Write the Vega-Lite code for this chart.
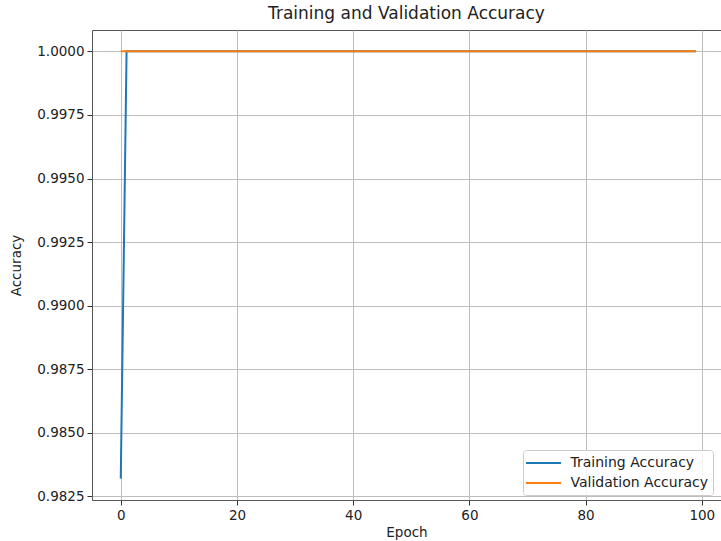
{
  "$schema": "https://vega.github.io/schema/vega-lite/v6.json",
  "width": 629,
  "height": 470,
  "autosize": {"type": "none"},
  "padding": {"left": 92, "top": 30, "right": 0, "bottom": 41},
  "background": "white",
  "config": {
    "font": "DejaVu Sans",
    "view": {"stroke": "#555555", "strokeWidth": 1},
    "axis": {
      "domain": false,
      "grid": true,
      "gridColor": "#bdbdbd",
      "gridWidth": 1,
      "tickColor": "#333333",
      "tickSize": 5,
      "tickWidth": 1,
      "labelFont": "DejaVu Sans",
      "labelFontSize": 13.5,
      "labelColor": "#222222",
      "titleFont": "DejaVu Sans",
      "titleFontSize": 13.5,
      "titleFontWeight": "normal",
      "titleColor": "#222222"
    }
  },
  "title": {
    "text": "Training and Validation Accuracy",
    "font": "DejaVu Sans",
    "fontSize": 17,
    "fontWeight": "normal",
    "color": "#222222",
    "anchor": "middle",
    "offset": 7
  },
  "data": {
    "values": [
      {"epoch": 0, "train": 0.9832, "val": 1.0},
      {"epoch": 1, "train": 1.0, "val": 1.0},
      {"epoch": 2, "train": 1.0, "val": 1.0},
      {"epoch": 3, "train": 1.0, "val": 1.0},
      {"epoch": 4, "train": 1.0, "val": 1.0},
      {"epoch": 5, "train": 1.0, "val": 1.0},
      {"epoch": 6, "train": 1.0, "val": 1.0},
      {"epoch": 7, "train": 1.0, "val": 1.0},
      {"epoch": 8, "train": 1.0, "val": 1.0},
      {"epoch": 9, "train": 1.0, "val": 1.0},
      {"epoch": 10, "train": 1.0, "val": 1.0},
      {"epoch": 11, "train": 1.0, "val": 1.0},
      {"epoch": 12, "train": 1.0, "val": 1.0},
      {"epoch": 13, "train": 1.0, "val": 1.0},
      {"epoch": 14, "train": 1.0, "val": 1.0},
      {"epoch": 15, "train": 1.0, "val": 1.0},
      {"epoch": 16, "train": 1.0, "val": 1.0},
      {"epoch": 17, "train": 1.0, "val": 1.0},
      {"epoch": 18, "train": 1.0, "val": 1.0},
      {"epoch": 19, "train": 1.0, "val": 1.0},
      {"epoch": 20, "train": 1.0, "val": 1.0},
      {"epoch": 21, "train": 1.0, "val": 1.0},
      {"epoch": 22, "train": 1.0, "val": 1.0},
      {"epoch": 23, "train": 1.0, "val": 1.0},
      {"epoch": 24, "train": 1.0, "val": 1.0},
      {"epoch": 25, "train": 1.0, "val": 1.0},
      {"epoch": 26, "train": 1.0, "val": 1.0},
      {"epoch": 27, "train": 1.0, "val": 1.0},
      {"epoch": 28, "train": 1.0, "val": 1.0},
      {"epoch": 29, "train": 1.0, "val": 1.0},
      {"epoch": 30, "train": 1.0, "val": 1.0},
      {"epoch": 31, "train": 1.0, "val": 1.0},
      {"epoch": 32, "train": 1.0, "val": 1.0},
      {"epoch": 33, "train": 1.0, "val": 1.0},
      {"epoch": 34, "train": 1.0, "val": 1.0},
      {"epoch": 35, "train": 1.0, "val": 1.0},
      {"epoch": 36, "train": 1.0, "val": 1.0},
      {"epoch": 37, "train": 1.0, "val": 1.0},
      {"epoch": 38, "train": 1.0, "val": 1.0},
      {"epoch": 39, "train": 1.0, "val": 1.0},
      {"epoch": 40, "train": 1.0, "val": 1.0},
      {"epoch": 41, "train": 1.0, "val": 1.0},
      {"epoch": 42, "train": 1.0, "val": 1.0},
      {"epoch": 43, "train": 1.0, "val": 1.0},
      {"epoch": 44, "train": 1.0, "val": 1.0},
      {"epoch": 45, "train": 1.0, "val": 1.0},
      {"epoch": 46, "train": 1.0, "val": 1.0},
      {"epoch": 47, "train": 1.0, "val": 1.0},
      {"epoch": 48, "train": 1.0, "val": 1.0},
      {"epoch": 49, "train": 1.0, "val": 1.0},
      {"epoch": 50, "train": 1.0, "val": 1.0},
      {"epoch": 51, "train": 1.0, "val": 1.0},
      {"epoch": 52, "train": 1.0, "val": 1.0},
      {"epoch": 53, "train": 1.0, "val": 1.0},
      {"epoch": 54, "train": 1.0, "val": 1.0},
      {"epoch": 55, "train": 1.0, "val": 1.0},
      {"epoch": 56, "train": 1.0, "val": 1.0},
      {"epoch": 57, "train": 1.0, "val": 1.0},
      {"epoch": 58, "train": 1.0, "val": 1.0},
      {"epoch": 59, "train": 1.0, "val": 1.0},
      {"epoch": 60, "train": 1.0, "val": 1.0},
      {"epoch": 61, "train": 1.0, "val": 1.0},
      {"epoch": 62, "train": 1.0, "val": 1.0},
      {"epoch": 63, "train": 1.0, "val": 1.0},
      {"epoch": 64, "train": 1.0, "val": 1.0},
      {"epoch": 65, "train": 1.0, "val": 1.0},
      {"epoch": 66, "train": 1.0, "val": 1.0},
      {"epoch": 67, "train": 1.0, "val": 1.0},
      {"epoch": 68, "train": 1.0, "val": 1.0},
      {"epoch": 69, "train": 1.0, "val": 1.0},
      {"epoch": 70, "train": 1.0, "val": 1.0},
      {"epoch": 71, "train": 1.0, "val": 1.0},
      {"epoch": 72, "train": 1.0, "val": 1.0},
      {"epoch": 73, "train": 1.0, "val": 1.0},
      {"epoch": 74, "train": 1.0, "val": 1.0},
      {"epoch": 75, "train": 1.0, "val": 1.0},
      {"epoch": 76, "train": 1.0, "val": 1.0},
      {"epoch": 77, "train": 1.0, "val": 1.0},
      {"epoch": 78, "train": 1.0, "val": 1.0},
      {"epoch": 79, "train": 1.0, "val": 1.0},
      {"epoch": 80, "train": 1.0, "val": 1.0},
      {"epoch": 81, "train": 1.0, "val": 1.0},
      {"epoch": 82, "train": 1.0, "val": 1.0},
      {"epoch": 83, "train": 1.0, "val": 1.0},
      {"epoch": 84, "train": 1.0, "val": 1.0},
      {"epoch": 85, "train": 1.0, "val": 1.0},
      {"epoch": 86, "train": 1.0, "val": 1.0},
      {"epoch": 87, "train": 1.0, "val": 1.0},
      {"epoch": 88, "train": 1.0, "val": 1.0},
      {"epoch": 89, "train": 1.0, "val": 1.0},
      {"epoch": 90, "train": 1.0, "val": 1.0},
      {"epoch": 91, "train": 1.0, "val": 1.0},
      {"epoch": 92, "train": 1.0, "val": 1.0},
      {"epoch": 93, "train": 1.0, "val": 1.0},
      {"epoch": 94, "train": 1.0, "val": 1.0},
      {"epoch": 95, "train": 1.0, "val": 1.0},
      {"epoch": 96, "train": 1.0, "val": 1.0},
      {"epoch": 97, "train": 1.0, "val": 1.0},
      {"epoch": 98, "train": 1.0, "val": 1.0},
      {"epoch": 99, "train": 1.0, "val": 1.0}
    ]
  },
  "transform": [
    {"fold": ["train", "val"], "as": ["key", "accuracy"]},
    {"lookup": "key", "from": {"data": {"values": [
      {"key": "train", "series": "Training Accuracy"},
      {"key": "val", "series": "Validation Accuracy"}
    ]}, "key": "key", "fields": ["series"]}}
  ],
  "mark": {"type": "line", "strokeWidth": 2, "clip": true},
  "encoding": {
    "x": {
      "field": "epoch",
      "type": "quantitative",
      "title": "Epoch",
      "scale": {"domain": [-4.95, 103.3], "nice": false, "zero": false},
      "axis": {"values": [0, 20, 40, 60, 80, 100], "labelPadding": 3, "titlePadding": 4}
    },
    "y": {
      "field": "accuracy",
      "type": "quantitative",
      "title": "Accuracy",
      "scale": {"domain": [0.98236, 1.00084], "nice": false, "zero": false},
      "axis": {
        "values": [0.9825, 0.985, 0.9875, 0.99, 0.9925, 0.995, 0.9975, 1.0],
        "format": ".4f",
        "labelPadding": 3,
        "titlePadding": 13
      }
    },
    "color": {
      "field": "series",
      "type": "nominal",
      "scale": {"domain": ["Training Accuracy", "Validation Accuracy"], "range": ["#1f77b4", "#ff7f0e"]},
      "legend": {
        "title": null,
        "orient": "none",
        "legendX": 431,
        "legendY": 420,
        "symbolType": "M-1.33,0H3.33",
        "symbolSize": 225,
        "symbolStrokeWidth": 2,
        "symbolFillColor": "transparent",
        "labelFont": "DejaVu Sans",
        "labelFontSize": 14,
        "labelColor": "#222222",
        "labelOffset": 26,
        "rowPadding": 4,
        "padding": 4.5,
        "fillColor": "rgba(255,255,255,0.85)",
        "strokeColor": "#cccccc",
        "cornerRadius": 3
      }
    }
  }
}
